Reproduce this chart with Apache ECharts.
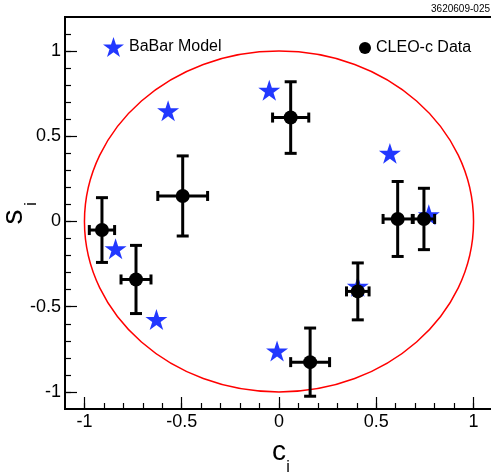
<!DOCTYPE html>
<html>
<head>
<meta charset="utf-8">
<script src="https://cdn.jsdelivr.net/npm/echarts@6/dist/echarts.min.js"></script>
<style>
  html, body { margin: 0; padding: 0; background: #fff; }
  #chart { width: 491px; height: 472px; }
</style>
</head>
<body>
<div id="chart"></div>
<script>
// CLEO-c measured points (c_i, s_i) with errors
var cleoC    = [-0.91, -0.735, -0.495, 0.06, 0.16, 0.405, 0.61, 0.745];
var cleoS    = [-0.05, -0.34, 0.15, 0.61, -0.825, -0.41, 0.015, 0.015];
var cleoCErr = [0.065, 0.077, 0.128, 0.093, 0.10, 0.058, 0.075, 0.055];
var cleoSErr = [0.19, 0.20, 0.235, 0.21, 0.20, 0.167, 0.22, 0.18];

// BaBar model predictions
var babarC = [-0.84, -0.63, -0.57, -0.05, -0.01, 0.405, 0.57, 0.77];
var babarS = [-0.16, -0.575, 0.65, 0.77, -0.76, -0.38, 0.40, 0.04];

// unit circle boundary: centre c, centre s, radius
var boundary = [[0, 0, 1]];

var majorTicks = [-1, -0.5, 0, 0.5, 1];
var minorTicks = [-1, -0.9, -0.8, -0.7, -0.6, -0.5, -0.4, -0.3, -0.2, -0.1, 0,
                  0.1, 0.2, 0.3, 0.4, 0.5, 0.6, 0.7, 0.8, 0.9, 1, 1.1];

var FONT = 'Liberation Sans, Arial, sans-serif';
var STAR = 'path://M50,0 L61.2,34.5 L97.6,34.5 L68.2,55.9 L79.4,90.5 L50,69.1 L20.6,90.5 L31.8,55.9 L2.4,34.5 L38.8,34.5 Z';
var BLUE = '#2238ff';

var chart = echarts.init(document.getElementById('chart'));

function makeAxis(min, max, pos, major) {
    return {
        type: 'value',
        position: pos,
        min: min,
        max: max,
        splitLine: { show: false },
        axisLine: { show: major, onZero: false, lineStyle: { color: '#000', width: 2 } },
        axisTick: {
            show: true,
            inside: true,
            length: major ? 12 : 6,
            customValues: major ? majorTicks : minorTicks,
            lineStyle: { color: '#000', width: 1.2 }
        },
        axisLabel: {
            show: major,
            customValues: majorTicks,
            color: '#000',
            fontSize: 18,
            fontFamily: FONT,
            margin: 4
        }
    };
}

var cleoData = cleoC.map(function (c, i) { return [c, cleoS[i]]; });
var errData = cleoC.map(function (c, i) { return [c, cleoS[i], cleoCErr[i], cleoSErr[i]]; });
var babarData = babarC.map(function (c, i) { return [c, babarS[i]]; });

var option = {
    animation: false,
    backgroundColor: '#fff',
    grid: {
        left: 65, top: 17, width: 428, height: 392,
        outerBoundsMode: 'none',
        containLabel: false,
        show: true, borderColor: '#000', borderWidth: 2, backgroundColor: 'transparent'
    },
    xAxis: [makeAxis(-1.1, 1.1, 'bottom', true), makeAxis(-1.1, 1.1, 'bottom', false)],
    yAxis: [makeAxis(-1.1, 1.2, 'left', true), makeAxis(-1.1, 1.2, 'left', false)],
    legend: [{
        data: ['BaBar Model'],
        left: 98, top: 32,
        itemWidth: 21, itemHeight: 21, itemGap: 5,
        textStyle: { fontSize: 16, fontFamily: FONT, color: '#000' }
    }, {
        data: ['CLEO-c Data'],
        left: 354, top: 35,
        itemWidth: 12, itemHeight: 12, itemGap: 5,
        textStyle: { fontSize: 16, fontFamily: FONT, color: '#000' }
    }],
    graphic: [
        { type: 'text', x: 490, y: 9, style: { text: '3620609-025', font: '10px ' + FONT, fill: '#000', textAlign: 'right', textVerticalAlign: 'middle' } },
        { type: 'text', x: 279, y: 452, style: { text: 'c', font: '28px ' + FONT, fill: '#000', textAlign: 'center', textVerticalAlign: 'middle' } },
        { type: 'text', x: 288, y: 468, style: { text: 'i', font: '16px ' + FONT, fill: '#000', textAlign: 'center', textVerticalAlign: 'middle' } },
        { type: 'text', x: 14, y: 217, rotation: Math.PI / 2, style: { text: 's', font: '30px ' + FONT, fill: '#000', textAlign: 'center', textVerticalAlign: 'middle' } },
        { type: 'text', x: 32, y: 204, rotation: Math.PI / 2, style: { text: 'i', font: '16px ' + FONT, fill: '#000', textAlign: 'center', textVerticalAlign: 'middle' } }
    ],
    series: [{
        type: 'custom',
        name: 'boundary',
        z: 1,
        silent: true,
        data: boundary,
        renderItem: function (params, api) {
            var ctr = api.coord([api.value(0), api.value(1)]);
            var r = api.size([api.value(2), api.value(2)]);
            return {
                type: 'ellipse',
                shape: { cx: ctr[0], cy: ctr[1], rx: r[0], ry: r[1] },
                style: { fill: 'none', stroke: '#ff0000', lineWidth: 1.5 }
            };
        }
    }, {
        type: 'scatter',
        name: 'BaBar Model',
        z: 2,
        symbol: STAR,
        symbolKeepAspect: true,
        symbolSize: 22,
        itemStyle: { color: BLUE, opacity: 1 },
        data: babarData
    }, {
        type: 'custom',
        name: 'errors',
        z: 3,
        data: errData,
        renderItem: function (params, api) {
            var c = api.value(0), s = api.value(1), dc = api.value(2), ds = api.value(3);
            var l = api.coord([c - dc, s]), r = api.coord([c + dc, s]);
            var t = api.coord([c, s + ds]), b = api.coord([c, s - ds]);
            var st = { stroke: '#000', lineWidth: 3 };
            var vc = 6, hc = 5;
            function ln(x1, y1, x2, y2) {
                return { type: 'line', shape: { x1: x1, y1: y1, x2: x2, y2: y2 }, style: st };
            }
            return {
                type: 'group',
                children: [
                    ln(l[0], l[1], r[0], r[1]),
                    ln(t[0], t[1], b[0], b[1]),
                    ln(t[0] - vc, t[1], t[0] + vc, t[1]),
                    ln(b[0] - vc, b[1], b[0] + vc, b[1]),
                    ln(l[0], l[1] - hc, l[0], l[1] + hc),
                    ln(r[0], r[1] - hc, r[0], r[1] + hc)
                ]
            };
        }
    }, {
        type: 'scatter',
        name: 'CLEO-c Data',
        z: 4,
        symbol: 'circle',
        symbolSize: 14,
        itemStyle: { color: '#000', opacity: 1 },
        data: cleoData
    }]
};

chart.setOption(option);
</script>
</body>
</html>
